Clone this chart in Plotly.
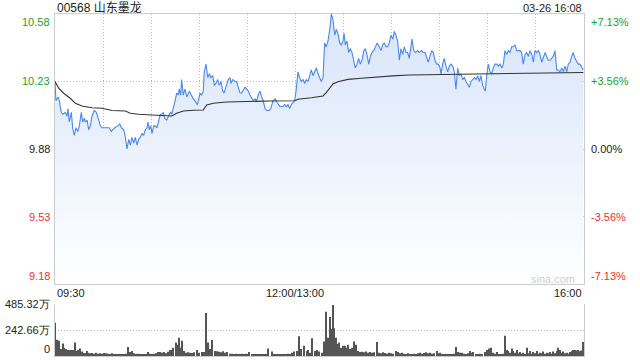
import plotly.graph_objects as go

# ---------------- data ----------------
title_text = "00568 山东墨龙"
stamp_text = "03-26 16:08"
prev_close = 9.88
price_ticks = [9.18, 9.53, 9.88, 10.23, 10.58]
pct_labels = ["-7.13%", "-3.56%", "0.00%", "+3.56%", "+7.13%"]
time_ticks = [0, 150, 330]
time_labels = ["09:30", "12:00/13:00", "16:00"]
vol_ticks = [0, 242.66, 485.32]
vol_labels = ["0", "242.66万", "485.32万"]

# minutes since 09:30 (lunch break removed) and price
price_min = [0, 0.6, 1.9, 2.7, 3.9, 5.0, 6.4, 7.5, 8.1, 8.9, 10.2, 11.0, 12.0, 13.1, 14.2, 15.2,
             16.4, 17.3, 18.3, 18.9, 20.0, 21.0, 22.0, 23.1, 24.5, 25.8, 27.3, 28.3, 29.3, 31.4,
             33.9, 35.1, 37.2, 39.3, 40.4, 41.4, 42.9, 43.9, 44.9, 46.0, 47.0, 48.0, 49.1, 50.1,
             51.2, 52.2, 53.2, 54.3, 55.3, 56.3, 57.4, 58.0, 58.8, 59.7, 60.5, 61.6, 62.6, 63.6,
             64.7, 65.7,
             66.6, 67.6, 68.4, 69.7, 71.3, 72.2, 72.8, 73.8, 74.9, 75.9, 76.9, 77.5, 78.4, 79.0,
             80.0, 81.1, 82.2, 83.8, 85.3, 86.3, 87.3, 88.8, 89.4, 90.5, 91.5, 92.5, 93.1, 94.2,
             95.3, 96.3, 97.3, 98.4, 99.4, 100.4, 101.5, 102.5, 103.6, 104.6, 105.4, 106.7, 108.1,
             109.2, 109.8, 110.9, 112.3, 113.3, 114.3, 115.4, 116.5, 117.5, 118.5, 119.6, 120.6,
             121.6, 122.7, 123.7, 124.8, 125.8, 126.8, 127.9, 128.9, 129.9, 131.0, 132.1, 133.7,
             134.6, 136.0, 137.4, 138.7, 140.2, 142.2, 143.3, 144.3, 145.3, 146.4, 147.4, 148.5,
             149.5, 150.5, 151.6, 152.6, 153.6, 154.7, 155.8, 156.8, 157.8, 158.9, 159.9, 160.9,
             162.0, 163.0, 164.1, 165.1, 166.1, 167.2, 168.2, 169.2, 170.3, 171.4, 172.4, 173.4,
             174.5, 175.5, 176.5, 177.6, 178.6, 179.7, 180.3, 181.1, 182.1, 183.2, 184.2, 185.3,
             186.3, 187.3, 188.4, 189.4, 190.4, 191.5, 192.6, 193.6, 194.6, 195.7, 196.7, 197.7,
             198.8, 199.8, 201.0,
             202.3, 203.4, 204.4, 205.4, 206.5, 207.5, 208.5, 209.6, 210.7, 211.7, 212.7, 213.8,
             214.8, 215.8, 216.9, 217.9, 219.0, 220.0, 221.0, 222.7, 223.8, 224.8, 226.3, 227.3,
             228.7, 229.7, 230.8, 231.9, 232.9, 233.9, 235.0, 236.0, 237.0, 238.1, 239.1, 240.2,
             240.8, 241.8, 242.8, 243.9, 245.0, 246.0, 247.0, 248.1, 249.1, 250.1, 251.2, 252.2,
             253.3, 254.3, 255.3, 256.4, 257.4, 258.4, 259.5, 260.6, 261.6, 262.6, 263.7, 264.7,
             265.7, 266.8, 267.8, 268.4, 269.3, 270.3, 271.4, 272.4, 273.4, 274.5, 275.5, 276.6,
             277.6, 278.7, 279.7, 280.7, 281.8, 282.8, 283.8, 284.9, 285.9, 287.0, 288.0, 289.0,
             290.1, 291.1, 292.1, 293.2, 294.2, 295.3, 296.3, 297.4, 298.4, 299.4, 300.5, 301.5,
             302.5, 303.6, 304.6, 305.7, 306.7, 307.7, 308.8, 309.8, 310.8, 311.9, 313.0, 314.0,
             315.0, 316.1, 317.1, 318.1, 319.2, 320.2, 321.3, 322.3, 323.3, 324.4, 325.4, 326.4,
             327.5, 328.6, 329.6]
price_val = [10.23, 10.13, 10.15, 10.13, 10.07, 10.06, 10.07, 10.05, 10.09, 10.02, 10.07, 9.99,
             9.95, 9.99, 9.97, 10.00, 10.07, 10.02, 10.04, 10.02, 10.03, 9.98, 10.00, 10.05, 10.08,
             10.07, 10.03, 10.00, 9.99, 9.99, 9.99, 9.97, 9.99, 10.00, 10.01, 9.99, 9.98, 9.94,
             9.88, 9.93, 9.90, 9.94, 9.91, 9.94, 9.90, 9.93, 9.94, 9.96, 9.95, 9.98, 9.99, 10.02,
             9.98, 10.00, 9.96, 10.00, 10.00, 9.99, 10.02, 10.06,
             10.06, 10.07, 10.04, 10.03, 10.06, 10.07, 10.06, 10.09, 10.13, 10.17, 10.16, 10.19,
             10.16, 10.24, 10.16, 10.19, 10.15, 10.18, 10.15, 10.14, 10.13, 10.11, 10.13, 10.17,
             10.16, 10.18, 10.28, 10.32, 10.25, 10.27, 10.25, 10.26, 10.21, 10.22, 10.24, 10.21,
             10.23, 10.18, 10.17, 10.20, 10.24, 10.25, 10.22, 10.24, 10.23, 10.23, 10.20, 10.17,
             10.17, 10.19, 10.20, 10.19, 10.18, 10.16, 10.14, 10.13, 10.14, 10.13, 10.16, 10.18,
             10.15, 10.13, 10.09, 10.08, 10.08,
             10.09, 10.13, 10.14, 10.12, 10.10, 10.10, 10.11, 10.10, 10.11, 10.09, 10.11, 10.12,
             10.13, 10.19, 10.28, 10.25, 10.23, 10.24, 10.22, 10.24, 10.23, 10.26, 10.29, 10.26,
             10.28, 10.30, 10.27, 10.25, 10.23, 10.25, 10.43, 10.41, 10.44, 10.50, 10.58, 10.55,
             10.47, 10.50, 10.48, 10.43, 10.42, 10.44, 10.48, 10.42, 10.44, 10.38, 10.40, 10.38,
             10.33, 10.30, 10.32, 10.35, 10.32, 10.34, 10.39, 10.40, 10.37, 10.32, 10.36, 10.38,
             10.39, 10.41, 10.43,
             10.41, 10.39, 10.42, 10.43, 10.41, 10.41, 10.43, 10.47, 10.45, 10.49, 10.47, 10.44,
             10.34, 10.40, 10.37, 10.41, 10.38, 10.38, 10.35, 10.45, 10.39, 10.38, 10.39, 10.38,
             10.39, 10.38, 10.38, 10.35, 10.33, 10.36, 10.39, 10.38, 10.34, 10.32, 10.32, 10.30,
             10.27, 10.32, 10.35, 10.31, 10.28, 10.31, 10.32, 10.31, 10.28, 10.19, 10.30, 10.26,
             10.27, 10.24, 10.25, 10.23, 10.21, 10.20, 10.23, 10.24, 10.25, 10.24, 10.26, 10.23,
             10.26, 10.21, 10.19, 10.18, 10.26, 10.32, 10.28, 10.27, 10.30, 10.32, 10.32, 10.31,
             10.32, 10.30, 10.32, 10.39, 10.37, 10.39, 10.38, 10.41, 10.41, 10.42, 10.39, 10.39,
             10.39, 10.38, 10.32, 10.37, 10.38, 10.36, 10.39, 10.37, 10.33, 10.39, 10.38, 10.39,
             10.37, 10.33, 10.36, 10.38, 10.36, 10.34, 10.34, 10.35, 10.36, 10.39, 10.29, 10.29,
             10.28, 10.30, 10.28, 10.31, 10.28, 10.32, 10.33, 10.36, 10.38, 10.35, 10.33, 10.32,
             10.32, 10.30, 10.29]

# average price line
avg_min = [0, 2.3, 5.4, 9.5, 12.7, 16.8, 23.1, 29.3, 35.6, 43.9, 47.0, 52.2, 60.5, 66.3, 72.8,
           75.9, 80.0, 86.3, 92.5, 94.6, 98.7, 107.1, 117.5, 133.7, 149.5, 151.6, 159.9, 167.2,
           169.2, 171.4, 173.4, 176.5, 182.8, 191.1, 201.0, 210.7, 221.0, 241.8, 265.1, 285.9,
           306.7, 329.6]
avg_val = [10.23, 10.195, 10.169, 10.143, 10.117, 10.103, 10.094, 10.091, 10.080, 10.077, 10.065,
           10.060, 10.056, 10.054, 10.051, 10.065, 10.077, 10.081, 10.082, 10.108, 10.117, 10.124,
           10.127, 10.129, 10.130, 10.138, 10.146, 10.155, 10.172, 10.195, 10.217, 10.229, 10.241,
           10.247, 10.255, 10.259, 10.264, 10.267, 10.268, 10.270, 10.273, 10.277]

# volume (万股)
vol_min = [0.3, 1.4, 2.5, 3.6, 4.8, 5.8, 6.9, 7.9, 8.9, 10.0, 11.0, 12.7, 13.5, 14.5, 15.6, 16.7,
           17.7, 18.7, 19.8, 20.8, 21.8, 23.1, 24.3, 25.6, 26.8, 28.1, 29.3, 30.6, 31.8, 33.1,
           34.3, 35.6, 36.8, 38.1, 39.3, 40.5, 41.8, 43.0, 44.3, 45.7, 46.8, 48.2, 49.3, 50.5,
           51.8, 53.0, 54.3, 55.5, 56.8, 58.2, 59.3, 60.5, 61.8, 63.0, 64.3, 65.5, 66.7, 68.0,
           69.2, 70.5, 71.7, 72.8, 73.8, 75.3, 76.3, 77.4, 78.4, 79.4, 80.5, 81.5, 83.0, 84.2,
           85.5, 86.7, 88.4, 89.8, 91.5, 92.9, 94.2, 95.3, 96.7, 98.1, 99.8, 101.1, 102.3, 103.6,
           104.8, 106.0, 107.3, 109.2, 110.4, 111.7, 112.9, 114.2, 115.4, 116.7, 117.9, 119.1,
           120.4, 121.2, 122.9, 124.1, 125.4, 126.6, 127.9, 129.1, 130.4, 131.6, 133.1, 135.2,
           136.6, 137.9, 139.1, 140.4, 141.6, 142.8, 144.1, 145.3, 146.6, 147.7, 149.3, 150.8,
           152.2, 153.5, 155.5, 157.0, 158.0, 159.1, 160.5, 162.2, 163.2, 164.7, 166.4, 167.8,
           169.1, 170.5, 171.5, 172.6, 173.2, 174.2, 175.3, 176.4, 177.3, 178.4, 179.8, 180.9,
           182.0, 183.0, 184.0, 185.1, 186.5, 187.8, 189.2, 190.3, 191.5, 192.8, 194.0, 195.3,
           196.5, 197.7, 199.0, 201.1, 202.1, 203.4, 204.6, 205.9, 207.1, 208.4, 209.6, 210.8,
           212.7, 214.2, 215.2, 216.5, 217.7, 219.0, 220.2, 221.5, 222.7, 224.0, 225.2, 226.4,
           227.7, 228.9, 230.2, 231.4, 232.7, 233.9, 235.2, 236.4, 238.1, 238.9, 240.2, 241.4,
           242.7, 243.9, 245.2, 246.4, 247.7, 248.9, 250.0, 251.6, 252.6, 253.7, 255.1, 256.4,
           257.6, 258.9, 260.1, 260.9, 262.6, 263.9, 265.1, 266.4, 268.3, 269.3, 270.7, 271.9,
           273.4, 274.5, 275.5, 277.0, 278.2, 279.4, 280.7, 281.8, 282.8, 283.8, 284.9, 285.9,
           287.0, 288.0, 289.0, 290.1, 291.1, 292.1, 293.2, 294.2, 295.3, 296.3, 297.4, 298.4,
           299.4, 300.5, 301.5, 302.5, 303.6, 304.6, 305.7, 306.7, 307.7, 308.8, 309.8, 310.8,
           311.9, 313.0, 314.0, 315.0, 316.1, 317.1, 318.1, 319.2, 320.2, 321.3, 322.3, 323.3,
           324.4, 325.4, 326.4, 327.5, 328.1, 329.2]
vol_val = [311, 152, 142, 66, 117, 76, 66, 57, 57, 57, 57, 127, 47, 57, 70, 41,
           31, 28, 47, 31, 25, 28, 20, 31, 22, 25, 20, 28, 25, 22,
           15, 25, 18, 12, 15, 12, 10, 15, 20, 85, 38, 47, 25, 15,
           20, 12, 15, 10, 12, 38, 22, 15, 20, 25, 38, 38, 30, 38,
           25, 40, 57, 57, 78, 127, 104, 171, 76, 142, 47, 31, 35, 30,
           28, 35, 57, 30, 38, 38, 402, 127, 66, 149, 47, 45, 40, 35,
           45, 30, 38, 20, 22, 18, 20, 15, 18, 20, 15, 20,
           15, 38, 15, 12, 10, 15, 12, 10, 15, 18, 70, 41,
           15, 12, 10, 15, 12, 10, 15, 20, 12, 31, 41, 47,
           184, 66, 95, 47, 57, 31, 165, 47, 57, 41, 31, 136,
           412, 171, 364, 254, 475, 260, 171, 111, 127, 78, 95, 95,
           78, 104, 66, 76, 136, 104, 47, 38, 40, 35, 42, 30,
           38, 30, 35, 130, 30, 25, 35, 28, 20, 30, 25, 20,
           47, 38, 25, 30, 20, 15, 25, 18, 15, 20, 12, 25,
           30, 20, 28, 35, 25, 30, 20, 25, 47, 25, 30, 15,
           18, 12, 15, 10, 15, 20, 85, 38, 30, 31, 20, 15,
           25, 47, 30, 38, 15, 12, 20, 18, 38, 57, 70, 78,
           31, 20, 38, 15, 12, 20, 190, 57, 47, 30, 70, 47,
           30, 57, 25, 38, 20, 31, 20, 76, 25, 47, 20, 38,
           25, 47, 20, 31, 25, 41, 20, 31, 25, 38, 20, 41,
           25, 47, 76, 57, 30, 41, 25, 31, 20, 38, 47, 57,
           57, 52, 57, 45, 52, 130]

# ---------------- figure ----------------
W, H = 640, 360
X0, X1 = 55 / W, 584 / W
MAIN_DOM = [1 - 284 / H, 1 - 14 / H]
VOL_DOM = [1 - 356 / H, 1 - 304 / H]
FONT = "Liberation Sans, Arial, sans-serif"
GREEN = "#1aa31a"
RED = "#f03030"
DARK = "#222222"
GRID = "#bdbdbd"
DOT = "1px,2px"

fig = go.Figure()

fig.add_trace(go.Scatter(
    x=price_min, y=price_val, mode="lines",
    line=dict(color="#4a88f0", width=1.1),
    fill="tozeroy",
    fillgradient=dict(type="vertical", start=price_ticks[0], stop=price_ticks[-1],
                      colorscale=[[0, "rgba(255,255,255,1)"], [1, "#d7e4fa"]]),
    hoverinfo="skip", xaxis="x", yaxis="y"))

fig.add_trace(go.Scatter(
    x=avg_min, y=avg_val, mode="lines", line=dict(color="#333333", width=1.1),
    hoverinfo="skip", xaxis="x", yaxis="y"))

fig.add_trace(go.Bar(
    x=vol_min, y=vol_val, width=0.65, marker=dict(color="#555555", line=dict(width=0)),
    hoverinfo="skip", xaxis="x2", yaxis="y2"))

fig.update_layout(
    width=W, height=H, margin=dict(l=0, r=0, t=0, b=0),
    paper_bgcolor="white", plot_bgcolor="white", showlegend=False,
    font=dict(family=FONT, size=11, color=DARK),
    xaxis=dict(domain=[X0, X1], range=[0, 330], tickvals=list(range(0, 331, 30)),
               showticklabels=False, ticks="", showgrid=True, gridcolor=GRID,
               griddash=DOT, gridwidth=1, zeroline=False,
               showline=True, linecolor="#cccccc", linewidth=1, mirror=True),
    yaxis=dict(domain=MAIN_DOM, range=[price_ticks[0], price_ticks[-1]],
               tickvals=price_ticks, showticklabels=False, ticks="",
               showgrid=True, gridcolor=GRID, griddash=DOT, zeroline=False,
               showline=True, linecolor="#cccccc", linewidth=1, mirror=True),
    xaxis2=dict(domain=[X0, X1], range=[0, 330], anchor="y2", showticklabels=False,
                ticks="", showgrid=False, zeroline=False,
                showline=True, linecolor="#cccccc", linewidth=1),
    yaxis2=dict(domain=VOL_DOM, range=[0, vol_ticks[-1]], anchor="x2",
                tickvals=vol_ticks[1:], showticklabels=False, ticks="",
                showgrid=True, gridcolor=GRID, griddash=DOT, zeroline=False,
                showline=True, linecolor="#cccccc", linewidth=1, mirror=True),
)

# previous-close dashed line
fig.add_shape(type="line", xref="x domain", yref="y", x0=0, x1=1, y0=prev_close, y1=prev_close,
              line=dict(color="#ababab", width=1, dash="3px,2px"), layer="below")

ann = []
colors = [RED, RED, DARK, GREEN, GREEN]
for i, (v, pl) in enumerate(zip(price_ticks, pct_labels)):
    ya = "bottom" if i == 0 else ("top" if i == len(price_ticks) - 1 else "middle")
    ann.append(dict(xref="paper", yref="y", x=X0, y=v, xanchor="right", yanchor=ya,
                    xshift=-3, text=f"{v:.2f}", showarrow=False,
                    font=dict(size=11, color=colors[i], family=FONT)))
    ann.append(dict(xref="paper", yref="y", x=X1, y=v, xanchor="left", yanchor=ya,
                    xshift=5, text=pl, showarrow=False,
                    font=dict(size=11, color=colors[i], family=FONT)))

for i, (v, vl) in enumerate(zip(vol_ticks, vol_labels)):
    ya = "bottom" if i == 0 else "middle"
    ann.append(dict(xref="paper", yref="y2", x=X0, y=v, xanchor="right", yanchor=ya,
                    xshift=-3, yshift=-1 if i == 0 else 0, text=vl, showarrow=False,
                    font=dict(size=11, color=DARK, family=FONT)))

for i, (t, tl) in enumerate(zip(time_ticks, time_labels)):
    xa = "left" if i == 0 else ("right" if i == len(time_ticks) - 1 else "center")
    ann.append(dict(xref="x", yref="paper", x=t, y=1 - 293 / H, xanchor=xa, yanchor="middle",
                    text=tl, showarrow=False, font=dict(size=11, color=DARK, family=FONT)))

ann.append(dict(xref="paper", yref="paper", x=X0, y=1 - 8 / H, xanchor="left", yanchor="middle",
                text=title_text, showarrow=False,
                font=dict(size=12, color=DARK, family="Liberation Sans, Noto Sans CJK SC, sans-serif")))
ann.append(dict(xref="paper", yref="paper", x=X1, y=1 - 8 / H, xanchor="right", yanchor="middle",
                text=stamp_text, showarrow=False, font=dict(size=11, color=DARK, family=FONT)))
ann.append(dict(xref="paper", yref="paper", x=553 / W, y=1 - 279 / H, xanchor="center",
                yanchor="middle", text="sina.com", showarrow=False,
                font=dict(size=11, color="#cfcfcf", family=FONT)))

fig.update_layout(annotations=ann)
fig.write_html("out.html")
